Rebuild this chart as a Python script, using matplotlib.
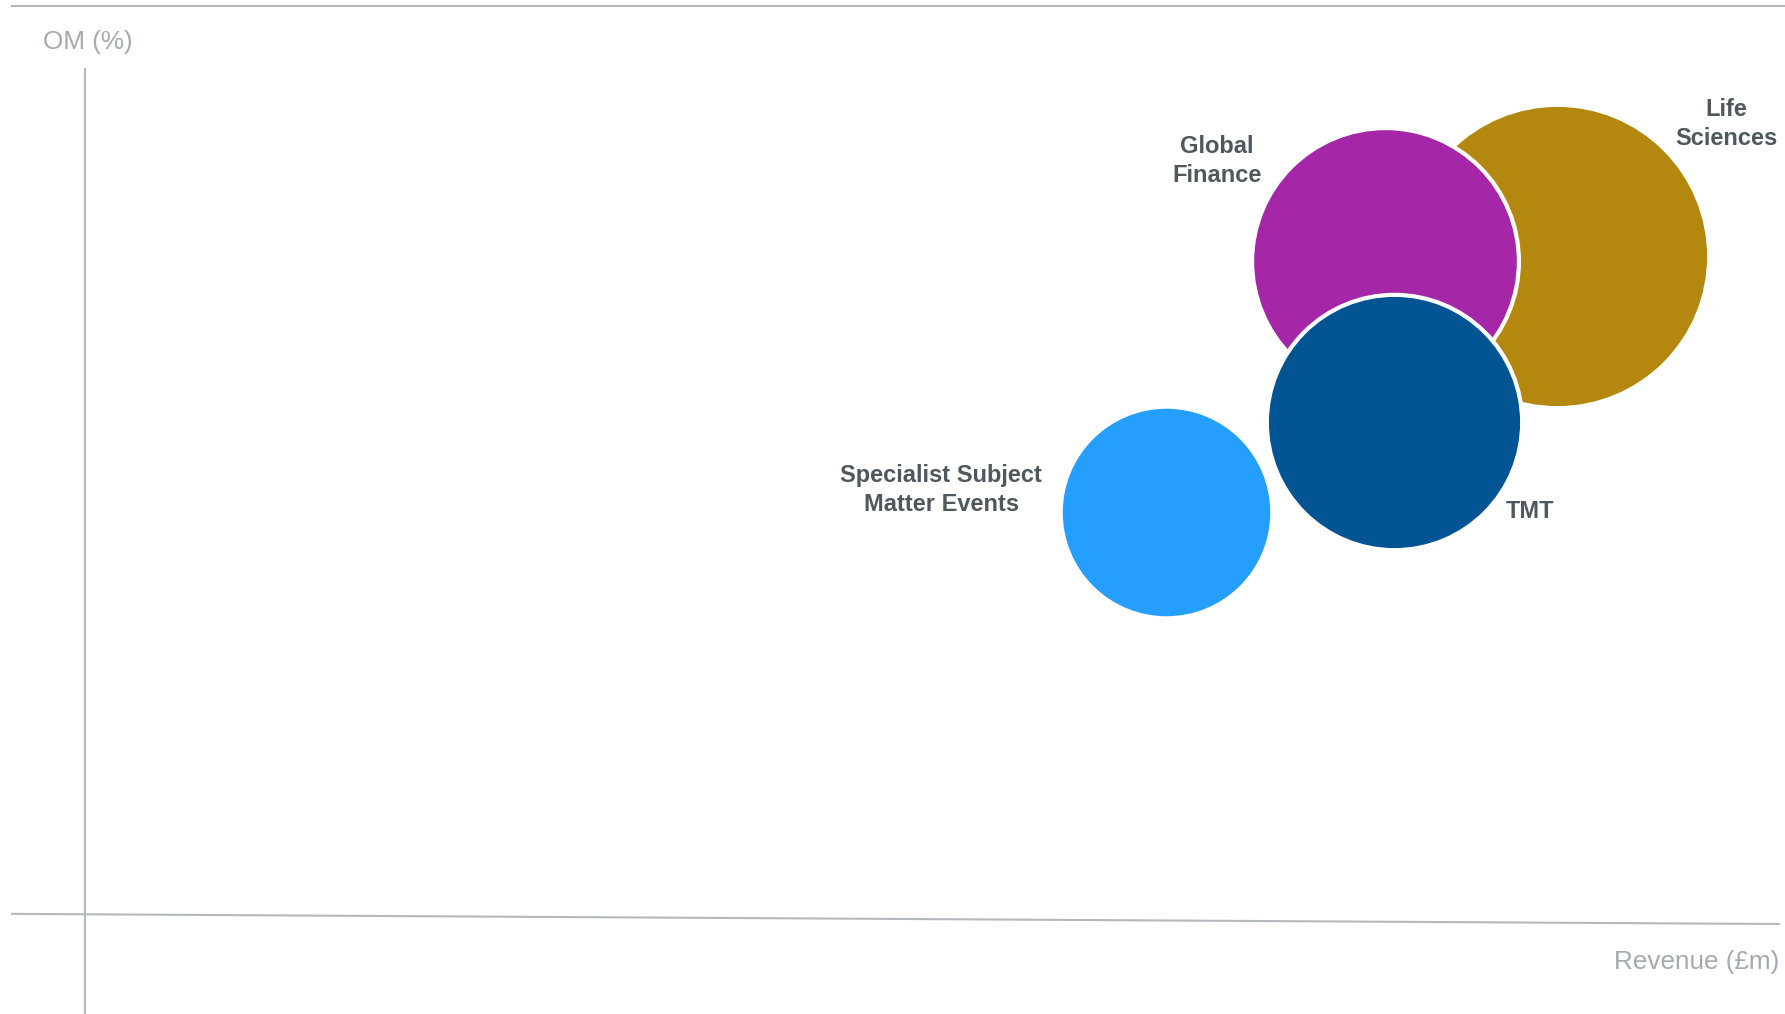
import matplotlib
matplotlib.use("Agg")
import matplotlib.pyplot as plt
from matplotlib.lines import Line2D

# ---- data ----
segments = ["Specialist Subject\nMatter Events", "Life\nSciences", "Global\nFinance", "TMT"]
revenue = [63.6, 86.6, 76.45, 77.0]         # x position (relative revenue)
om = [15.9, 26.0, 25.8, 19.45]              # y position (operating margin)
bubble = [11.2, 23.0, 17.8, 16.3]           # relative bubble area
colors = ["#259FFF", "#B4870E", "#A526A6", "#025492"]

x_label = "Revenue (£m)"
y_label = "OM (%)"

# label offsets (points) from bubble centre
label_offsets = [(-162, 15.8), (121.7, 95.0), (-120.6, 72.2), (97.6, -64.6)]

plt.rcParams['font.family'] = ['Liberation Sans', 'DejaVu Sans']

W, H, DPI = 1785, 1014, 100
fig = plt.figure(figsize=(W / DPI, H / DPI), dpi=DPI)
fig.patch.set_facecolor("white")
ax = fig.add_axes([0, 0, 1, 1])
ax.set_xlim(-5, 100)
ax.set_ylim(-3.9, 36.1)
ax.axis("off")

line_col = "#B4B9BC"
# axes lines
ax.plot([0, 0], [-3.9, 33.4], color=line_col, lw=1.5, solid_capstyle="butt", zorder=1)
ax.plot([-4.35, 99.7], [0.05, -0.35], color=line_col, lw=1.5, solid_capstyle="butt", zorder=1)
fig.add_artist(Line2D([12 / W, 1.0], [1 - 5.7 / H, 1 - 5.7 / H], color=line_col, lw=1.5))

# bubbles
scale = 1000 * (1.44 ** 2)
for i in range(len(segments)):
    ax.scatter(revenue[i], om[i], s=bubble[i] * scale, color=colors[i],
               edgecolors="white", linewidths=3, zorder=2 + i)
    ax.annotate(segments[i], (revenue[i], om[i]), xytext=label_offsets[i],
                textcoords="offset points", ha="center", va="center",
                fontsize=17, fontweight="bold", color="#50585E",
                linespacing=1.3, zorder=10)

ax_col = "#A4AAAD"
fig.text(43 / W, 1 - 42 / H, y_label, ha="left", va="center", fontsize=18.8, color=ax_col)
fig.text(1779 / W, 1 - 962 / H, x_label, ha="right", va="center", fontsize=18.8, color=ax_col)

fig.savefig("out.png", dpi=DPI)
